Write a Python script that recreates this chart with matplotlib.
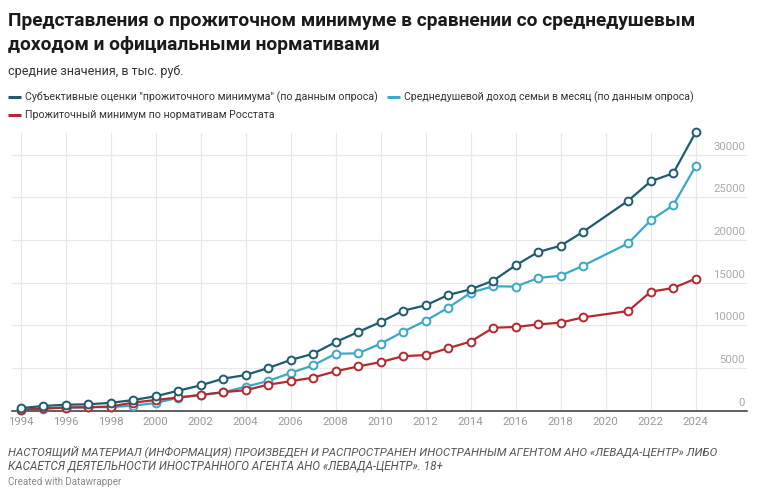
import matplotlib
matplotlib.use("Agg")
import matplotlib.pyplot as plt
from matplotlib.lines import Line2D
import matplotlib.transforms as mtransforms

# ---------------- data ----------------
years = [1994, 1995, 1996, 1997, 1998, 1999, 2000, 2001, 2002, 2003, 2004,
         2005, 2006, 2007, 2008, 2009, 2010, 2011, 2012, 2013, 2014, 2015,
         2016, 2017, 2018, 2019, 2021, 2022, 2023, 2024]

subjective = [300, 550, 700, 750, 920, 1250, 1690, 2340, 2970, 3750, 4180,
              5000, 5940, 6670, 8040, 9220, 10390, 11710, 12340, 13550, 14220, 15220,
              17030, 18580, 19320, 20960, 24590, 26860, 27800, 32600]

income = [90, 250, 360, 400, 420, 590, 900, 1520, 1830, 2150, 2810,
          3480, 4420, 5320, 6670, 6720, 7850, 9250, 10540, 12060, 13820, 14570,
          14530, 15540, 15810, 16980, 19600, 22300, 24050, 28650]

rosstat = [90, 260, 370, 410, 490, 950, 1250, 1550, 1850, 2170, 2400,
           3050, 3450, 3880, 4620, 5180, 5700, 6390, 6510, 7320, 8100, 9710,
           9810, 10100, 10320, 10930, 11670, 13930, 14370, 15460]

series_names = ['Субъективные оценки "прожиточного минимума" (по данным опроса)',
                'Среднедушевой доход семьи в месяц (по данным опроса)',
                'Прожиточный минимум по нормативам Росстата']
colors = ['#1f5b6e', '#3aa8c8', '#b5292e']

xtick_years = list(range(1994, 2025, 2))
ytick_vals = [0, 5000, 10000, 15000, 20000, 25000, 30000]

title_lines = ['Представления о прожиточном минимуме в сравнении со среднедушевым',
               'доходом и официальными нормативами']
subtitle = 'средние значения, в тыс. руб.'
footer_lines = ['НАСТОЯЩИЙ МАТЕРИАЛ (ИНФОРМАЦИЯ) ПРОИЗВЕДЕН И РАСПРОСТРАНЕН ИНОСТРАННЫМ АГЕНТОМ АНО «ЛЕВАДА-ЦЕНТР» ЛИБО',
                'КАСАЕТСЯ ДЕЯТЕЛЬНОСТИ ИНОСТРАННОГО АГЕНТА АНО «ЛЕВАДА-ЦЕНТР». 18+']
credit = 'Created with Datawrapper'

# ---------------- figure ----------------
W, H = 758, 496
plt.rcParams['font.family'] = ['Roboto', 'DejaVu Sans']
fig = plt.figure(figsize=(W / 100, H / 100), dpi=100)
fig.patch.set_facecolor('white')
renderer = fig.canvas.get_renderer()


def ftext(x, y, s, size, width=None, **kw):
    t = fig.text(x / W, 1 - y / H, s, fontsize=size, va='center', ha='left', **kw)
    if width is not None:
        w = t.get_window_extent(renderer).width
        f = width / w
        f = max(0.8, min(1.2, f))
        t.set_fontsize(size * f)
    return t


# Title / subtitle
ftext(8, 21, title_lines[0], 14.5, width=687, fontweight='bold', color='#1a1a1a')
ftext(8, 45, title_lines[1], 14.5, width=372, fontweight='bold', color='#1a1a1a')
ftext(8, 72, subtitle, 9.5, width=175, color='#333333')

# Legend
leg = [(8, 97, 0), (387, 97, 1), (8, 115, 2)]
leg_w = [350, 288, 247]
for (lx, ly, i) in leg:
    fig.add_artist(Line2D([lx / W, (lx + 13) / W], [1 - ly / H, 1 - ly / H],
                          transform=fig.transFigure, color=colors[i], lw=2.2,
                          solid_capstyle='butt'))
    ftext(lx + 17, ly, series_names[i], 8.3, width=leg_w[i], color='#333333')

# Axes
x0, x1 = 12, 747
ytop, ybase = 133, 410.7
ax = fig.add_axes([x0 / W, 1 - ybase / H, (x1 - x0) / W, (ybase - ytop) / H])
px_per_year = 22.5
x1994 = 20.7
ax.set_xlim(1994 - (x1994 - x0) / px_per_year, 1994 + (x1 - x1994) / px_per_year)
px_per_unit = 42.7 / 5000
ax.set_ylim(0, (ybase - ytop) / px_per_unit)

for s in ['top', 'right', 'left']:
    ax.spines[s].set_visible(False)
ax.spines['bottom'].set_color('#333333')
ax.spines['bottom'].set_linewidth(1.1)
ax.spines['bottom'].set_zorder(2)

ax.set_xticks(xtick_years)
ax.set_xticklabels([str(y) for y in xtick_years], color='#999999', fontsize=8.2)
ax.tick_params(axis='x', length=0, pad=4.5)
ax.set_yticks(ytick_vals[1:])
ax.tick_params(axis='y', length=0, labelleft=False)
ax.grid(True, color='#e8e8e8', lw=0.9, zorder=0)
ax.set_axisbelow(True)

# y labels above gridlines, right aligned
off = mtransforms.offset_copy(ax.transData, fig=fig, x=0, y=8, units='dots')
blend = mtransforms.blended_transform_factory(ax.transAxes, off)
for v in ytick_vals:
    ax.text(0.9975, v, str(v), transform=blend, ha='right', va='center',
            fontsize=8.2, color='#aaaaaa')

# Lines (cyan bottom, red middle, dark top)
for vals, c, z in [(income, colors[1], 3), (rosstat, colors[2], 4), (subjective, colors[0], 5)]:
    ax.plot(years, vals, color=c, lw=1.6, marker='o', markersize=5.6,
            markerfacecolor='white', markeredgecolor=c, markeredgewidth=1.4,
            zorder=z, clip_on=False)

# Footer
ftext(8, 452, footer_lines[0], 8.3, width=707, color='#555555', style='italic')
ftext(8, 466, footer_lines[1], 8.3, width=433, color='#555555', style='italic')
ftext(8, 482, credit, 7.2, width=113, color='#888888')

fig.savefig('out.png', dpi=100, facecolor='white')
